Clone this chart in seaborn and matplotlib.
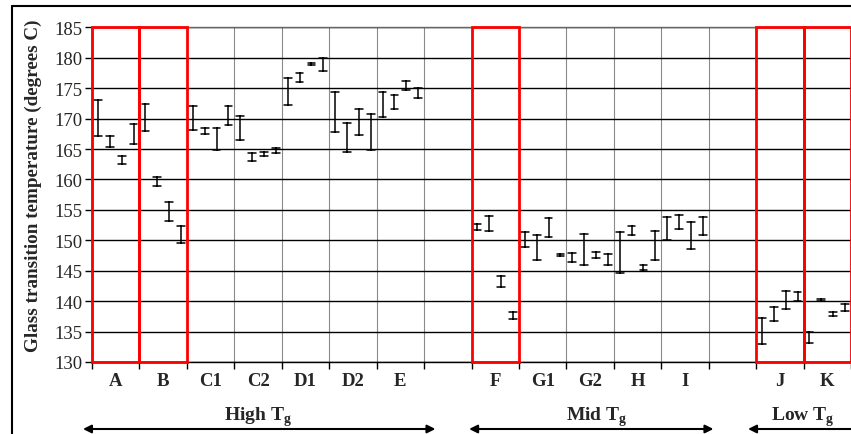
import pandas as pd
import seaborn as sns
import matplotlib.pyplot as plt
import matplotlib.transforms as mtransforms
from matplotlib.patches import Rectangle
from matplotlib.lines import Line2D

# categories along the x axis, blank slots separate the three groups
categories = ["A", "B", "C1", "C2", "D1", "D2", "E", "",
              "F", "G1", "G2", "H", "I", "", "J", "K"]
boxed = ["A", "B", "F", "J", "K"]

# lower / upper end of each error bar (four samples per category)
tg_low = [
    [167.1, 165.3, 162.6, 165.8],  # A
    [168.0, 158.9, 153.1, 149.6],  # B
    [168.2, 167.5, 164.8, 168.9],  # C1
    [166.4, 163.1, 163.8, 164.3],  # C2
    [172.2, 176.0, 178.85, 177.9],  # D1
    [167.8, 164.5, 167.3, 164.8],  # D2
    [170.2, 171.5, 174.7, 173.3],  # E
    [151.7, 151.6, 142.3, 137.1],  # F
    [148.9, 146.8, 150.5, 147.4],  # G1
    [146.4, 146.0, 147.1, 146.0],  # G2
    [144.6, 150.8, 145.2, 146.7],  # H
    [150.0, 151.9, 148.5, 150.8],  # I
    [132.9, 136.7, 138.7, 140.0],  # J
    [133.1, 140.0, 137.5, 138.3],  # K
]
tg_high = [
    [173.1, 167.1, 163.8, 169.1],
    [172.4, 160.4, 156.3, 152.4],
    [172.0, 168.5, 168.5, 172.0],
    [170.4, 164.4, 164.5, 165.1],
    [176.6, 177.5, 179.15, 179.9],
    [174.4, 169.3, 171.5, 170.8],
    [174.4, 173.9, 176.2, 175.0],
    [152.7, 154.0, 144.2, 138.2],
    [151.3, 150.8, 153.6, 147.8],
    [147.9, 151.1, 148.1, 147.7],
    [151.3, 152.4, 145.9, 151.5],
    [153.8, 154.2, 153.0, 153.8],
    [137.2, 139.1, 141.6, 141.5],
    [135.0, 140.4, 138.2, 139.6],
]

groups = ["High T$_\\mathbf{g}$", "Mid T$_\\mathbf{g}$", "Low T$_\\mathbf{g}$"]
group_text_x = [3.5, 10.63, 14.98]
group_arrow = [(-0.19, 7.24), (7.95, 13.1), (13.83, 16.3)]

# long table: two rows (low, high) per error bar
rows = []
filled = [i for i, c in enumerate(categories) if c]
for j, i in enumerate(filled):
    for k in range(4):
        pos = i + (k + 0.5) / 4
        rows.append({"pos": pos, "tg": tg_low[j][k]})
        rows.append({"pos": pos, "tg": tg_high[j][k]})
df = pd.DataFrame(rows)

sns.set_theme(style="white")
plt.rcParams["font.family"] = ["Liberation Serif", "DejaVu Serif"]
plt.rcParams["mathtext.fontset"] = "custom"
plt.rcParams["mathtext.bf"] = "Liberation Serif:bold"
plt.rcParams["mathtext.rm"] = "Liberation Serif:bold"

fig = plt.figure(figsize=(8.51, 4.35), dpi=100)
ax = fig.add_axes([92 / 851, 72 / 435, 759 / 851, 334.7 / 435])

sns.pointplot(data=df, x="pos", y="tg", native_scale=True, orient="x",
              estimator="mean", errorbar=lambda v: (v.min(), v.max()),
              capsize=0.65, color="black", marker="none", linestyle="none",
              err_kws={"linewidth": 1.1}, ax=ax, zorder=4)

ax.set_xlim(0, 16)
ax.set_ylim(130, 185)
ax.set_yticks(range(130, 186, 5))
ax.set_xticks(range(0, 17))
ax.set_xticklabels([])
ax.set_xticks([i + 0.5 for i in range(16)], minor=True)
ax.set_xticklabels(categories, minor=True, fontweight="bold", fontsize=13.5)
ax.tick_params(axis="x", which="major", direction="out", length=5,
               width=1, color="black", bottom=True)
ax.tick_params(axis="x", which="minor", length=0, pad=7)
ax.tick_params(axis="y", direction="out", length=5, width=1, color="black",
               labelsize=13.5, pad=2, left=True)

ax.yaxis.grid(True, color="black", linewidth=1)
ax.xaxis.grid(True, which="major", color="#8a8a8a", linewidth=0.8)
ax.set_axisbelow(True)
for side in ["left", "bottom"]:
    ax.spines[side].set_color("black")
    ax.spines[side].set_linewidth(1)
ax.spines["top"].set_color("#666666")
ax.spines["top"].set_linewidth(1)
ax.spines["right"].set_visible(False)

ax.set_xlabel("")
ax.set_ylabel("Glass transition temperature (degrees C)", fontweight="bold",
              fontsize=13.8)
ax.yaxis.set_label_coords(-0.066, 0.529)

for c in boxed:
    i = categories.index(c)
    ax.add_patch(Rectangle((i, 130), 1, 55, fill=False, edgecolor="red",
                           linewidth=2, zorder=5, clip_on=False))

trans = mtransforms.blended_transform_factory(ax.transData, fig.transFigure)
for label, tx, (x0, x1) in zip(groups, group_text_x, group_arrow):
    ax.text(tx, 0.033, label, transform=trans, ha="center", va="baseline",
            fontsize=14, fontweight="bold")
    ax.annotate("", xy=(x1, 0.0115), xytext=(x0, 0.0115), xycoords=trans,
                textcoords=trans, annotation_clip=False,
                arrowprops=dict(arrowstyle="<|-|>", color="black", lw=1.5,
                                mutation_scale=12, shrinkA=0, shrinkB=0))

# outer chart border
fig.add_artist(Line2D([11.5 / 851, 1.0], [1 - 7 / 435, 1 - 7 / 435],
                      transform=fig.transFigure, color="black", lw=1.5))
fig.add_artist(Line2D([11.5 / 851, 11.5 / 851], [0, 1 - 7 / 435],
                      transform=fig.transFigure, color="black", lw=1.5))

fig.savefig("out.png", dpi=100)
